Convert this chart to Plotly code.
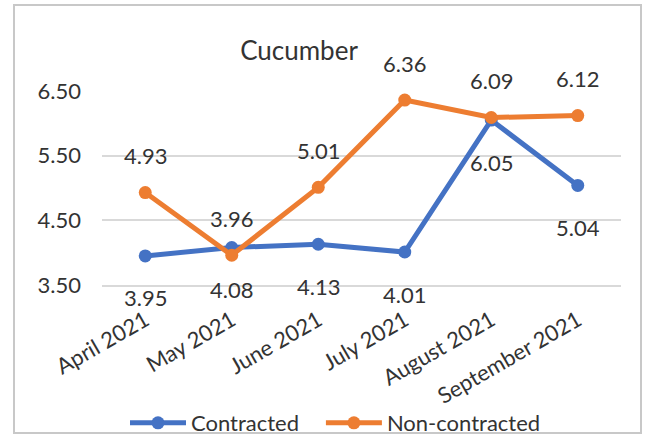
import plotly.graph_objects as go

months = ["April 2021", "May 2021", "June 2021", "July 2021", "August 2021", "September 2021"]
contracted = [3.95, 4.08, 4.13, 4.01, 6.05, 5.04]
non_contracted = [4.93, 3.96, 5.01, 6.36, 6.09, 6.12]
y_ticks = [3.5, 4.5, 5.5, 6.5]
y_tick_text = ["3.50", "4.50", "5.50", "6.50"]

BLUE = "#4472C4"
ORANGE = "#ED7D31"
TEXT = "#333333"
GRID = "#D9D9D9"
FONT = "Lato"

W, H = 650, 437
L, R, T, B = 102, 29, 91, 152
pw = W - L - R
ph = H - T - B

fig = go.Figure()
fig.add_trace(go.Scatter(
    x=months, y=contracted, name="Contracted\u00a0\u00a0\u00a0", mode="lines+markers",
    line=dict(color=BLUE, width=5), marker=dict(size=13, color=BLUE),
    cliponaxis=False,
))
fig.add_trace(go.Scatter(
    x=months, y=non_contracted, name="Non-contracted", mode="lines+markers",
    line=dict(color=ORANGE, width=5), marker=dict(size=13, color=ORANGE),
    cliponaxis=False,
))

annotations = []
for m, v in zip(months, non_contracted):
    annotations.append(dict(x=m, y=v, text=f"{v:.2f}", showarrow=False, yshift=37,
                            font=dict(family=FONT, size=22, color=TEXT)))
for m, v in zip(months, contracted):
    annotations.append(dict(x=m, y=v, text=f"{v:.2f}", showarrow=False, yshift=-42,
                            font=dict(family=FONT, size=22, color=TEXT)))


def px_x(p):
    return (p - L) / pw


def px_y(p):
    return (H - B - p) / ph


fig.update_layout(
    width=W, height=H,
    margin=dict(l=L, r=R, t=T, b=B, autoexpand=False),
    paper_bgcolor="white", plot_bgcolor="white",
    font=dict(family=FONT, size=22, color=TEXT),
    title=dict(text="Cucumber", x=299 / W, xanchor="center", y=1 - 51 / H, yanchor="middle",
               font=dict(family=FONT, size=26, color=TEXT)),
    showlegend=True,
    legend=dict(orientation="h", x=px_x(125), xanchor="left", y=px_y(423), yanchor="middle",
                itemwidth=56,
                font=dict(family=FONT, size=22, color=TEXT), bgcolor="rgba(0,0,0,0)"),
    annotations=annotations,
    shapes=[dict(type="rect", xref="paper", yref="paper",
                 x0=px_x(14), x1=px_x(641), y0=px_y(433), y1=px_y(5),
                 line=dict(color="#C8C8C8", width=2), layer="below")],
    xaxis=dict(type="category", range=[-0.5, 5.5], showgrid=False, zeroline=False,
               showline=True, linecolor=GRID, linewidth=2,
               tickangle=-30, ticks="", ticklabelstandoff=12,
               tickfont=dict(family=FONT, size=22, color=TEXT)),
    yaxis=dict(range=[3.5, 6.5], tickvals=y_ticks, ticktext=y_tick_text, showgrid=True,
               gridcolor=GRID, gridwidth=2, zeroline=False, showline=False, ticks="",
               ticklabelstandoff=20, tickfont=dict(family=FONT, size=22, color=TEXT)),
)

fig.write_html("out.html", config={"displayModeBar": False},
               post_script="document.body.style.margin='0';document.body.style.padding='0';")
